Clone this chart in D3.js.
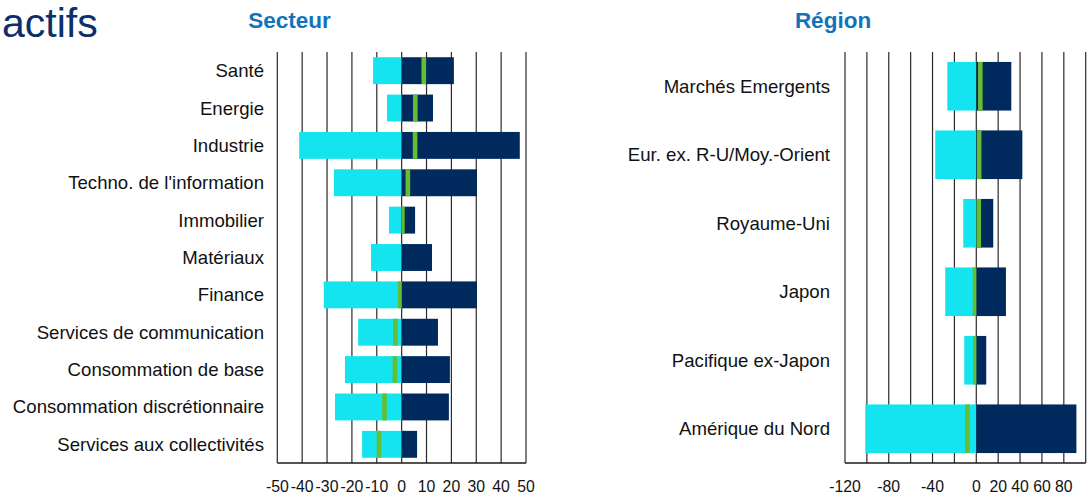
<!DOCTYPE html>
<html>
<head>
<meta charset="utf-8">
<script src="https://cdn.jsdelivr.net/npm/d3@7"></script>
<style>
  html, body { margin: 0; padding: 0; background: #fff; }
  svg { display: block; font-family: "Liberation Sans", Arial, sans-serif; }
</style>
</head>
<body>
<svg id="chart" width="1092" height="493"></svg>
<script>
// ---- Data ----
const sectors = ["Santé", "Energie", "Industrie", "Techno. de l'information", "Immobilier", "Matériaux", "Finance", "Services de communication", "Consommation de base", "Consommation discrétionnaire", "Services aux collectivités"];
const sectorNeg = [-11.5, -5.9, -41.2, -27.2, -5.1, -12.3, -31.3, -17.5, -22.8, -26.8, -15.9];
const sectorPos = [21.0, 12.6, 47.5, 30.3, 5.4, 12.2, 30.3, 14.6, 19.4, 19.0, 6.2];
const sectorNet = [8.9, 5.5, 5.4, 2.5, 0.3, 0, -0.6, -2.5, -2.7, -6.9, -9.1];
const sectorTicks = [-50, -40, -30, -20, -10, 0, 10, 20, 30, 40, 50];

const regions = ["Marchés Emergents", "Eur. ex. R-U/Moy.-Orient", "Royaume-Uni", "Japon", "Pacifique ex-Japon", "Amérique du Nord"];
const regionNeg = [-26.5, -37.5, -11.9, -28.4, -11.0, -101.5];
const regionPos = [32.0, 42.1, 15.5, 27.1, 9.1, 91.5];
const regionNet = [3.7, 2.6, 2.3, -1.2, -0.8, -8.2];
const regionGrid = [-120, -100, -80, -60, -40, -20, 0, 20, 40, 60, 80, 100];
const regionTicks = [-120, -80, -40, 0, 20, 40, 60, 80];

const COL_NEG = "#14E4EF", COL_POS = "#002A5D", COL_NET = "#63BE34";

const svg = d3.select("#chart");

// Title fragment (cut off at left in the original)
svg.append("text").attr("x", 2).attr("y", 37).attr("text-anchor", "start")
  .attr("font-size", 41).attr("fill", "#0C2E6B").text("actifs");

function panel(opts) {
  const g = svg.append("g");
  const x = d3.scaleLinear().domain(opts.domain).range(opts.xRange);
  const y = d3.scaleBand().domain(opts.cats).range([52, 463])
    .paddingInner(opts.pad).paddingOuter(opts.pad / 2);

  // title
  g.append("text").attr("x", opts.titleX).attr("y", 28).attr("text-anchor", "middle")
    .attr("font-size", 22.5).attr("font-weight", "bold").attr("fill", "#1173BA").text(opts.title);

  // gridlines
  g.selectAll("line.grid").data(opts.grid).enter().append("line")
    .attr("x1", d => x(d)).attr("x2", d => x(d)).attr("y1", 52).attr("y2", 463)
    .attr("stroke", "#2a2a2a").attr("stroke-width", 1.2);

  // bottom axis line
  g.append("line").attr("x1", opts.xRange[0]).attr("x2", opts.xRange[1])
    .attr("y1", 463).attr("y2", 463).attr("stroke", "#1a1a1a").attr("stroke-width", 1.5);

  const rows = opts.cats.map((c, i) => ({c, neg: opts.neg[i], pos: opts.pos[i], net: opts.net[i]}));

  g.selectAll("rect.neg").data(rows).enter().append("rect")
    .attr("x", d => x(d.neg)).attr("width", d => x(0) - x(d.neg))
    .attr("y", d => y(d.c)).attr("height", y.bandwidth()).attr("fill", COL_NEG);
  g.selectAll("rect.pos").data(rows).enter().append("rect")
    .attr("x", x(0)).attr("width", d => x(d.pos) - x(0))
    .attr("y", d => y(d.c)).attr("height", y.bandwidth()).attr("fill", COL_POS);

  const hw = 2.3;
  g.selectAll("rect.net").data(rows.filter(d => d.net !== 0)).enter().append("rect")
    .attr("x", d => {
      let x0 = x(d.net) - hw;
      if (d.net > 0) x0 = Math.max(x0, x(0));
      return x0;
    })
    .attr("width", d => {
      let x0 = x(d.net) - hw, x1 = x(d.net) + hw;
      if (d.net > 0) x0 = Math.max(x0, x(0));
      if (d.net < 0) x1 = Math.min(x1, x(0));
      return x1 - x0;
    })
    .attr("y", d => y(d.c)).attr("height", y.bandwidth()).attr("fill", COL_NET);

  // category labels
  g.selectAll("text.cat").data(opts.cats).enter().append("text")
    .attr("x", opts.labelX).attr("y", d => y(d) + y.bandwidth() / 2).attr("dy", "0.35em")
    .attr("text-anchor", "end").attr("font-size", 18.6).attr("fill", "#111").text(d => d);

  // tick labels
  g.selectAll("text.tick").data(opts.ticks).enter().append("text")
    .attr("x", d => x(d)).attr("y", 491.5).attr("text-anchor", "middle")
    .attr("font-size", 15.8).attr("fill", "#111").text(d => d);
}

panel({
  title: "Secteur", titleX: 289.5, cats: sectors, neg: sectorNeg, pos: sectorPos, net: sectorNet,
  domain: [-50, 50], xRange: [277.3, 526], pad: 0.28, grid: sectorTicks, ticks: sectorTicks, labelX: 264
});
panel({
  title: "Région", titleX: 833, cats: regions, neg: regionNeg, pos: regionPos, net: regionNet,
  domain: [-120, 100], xRange: [845, 1085.7], pad: 0.29, grid: regionGrid, ticks: regionTicks, labelX: 830
});
</script>
</body>
</html>
